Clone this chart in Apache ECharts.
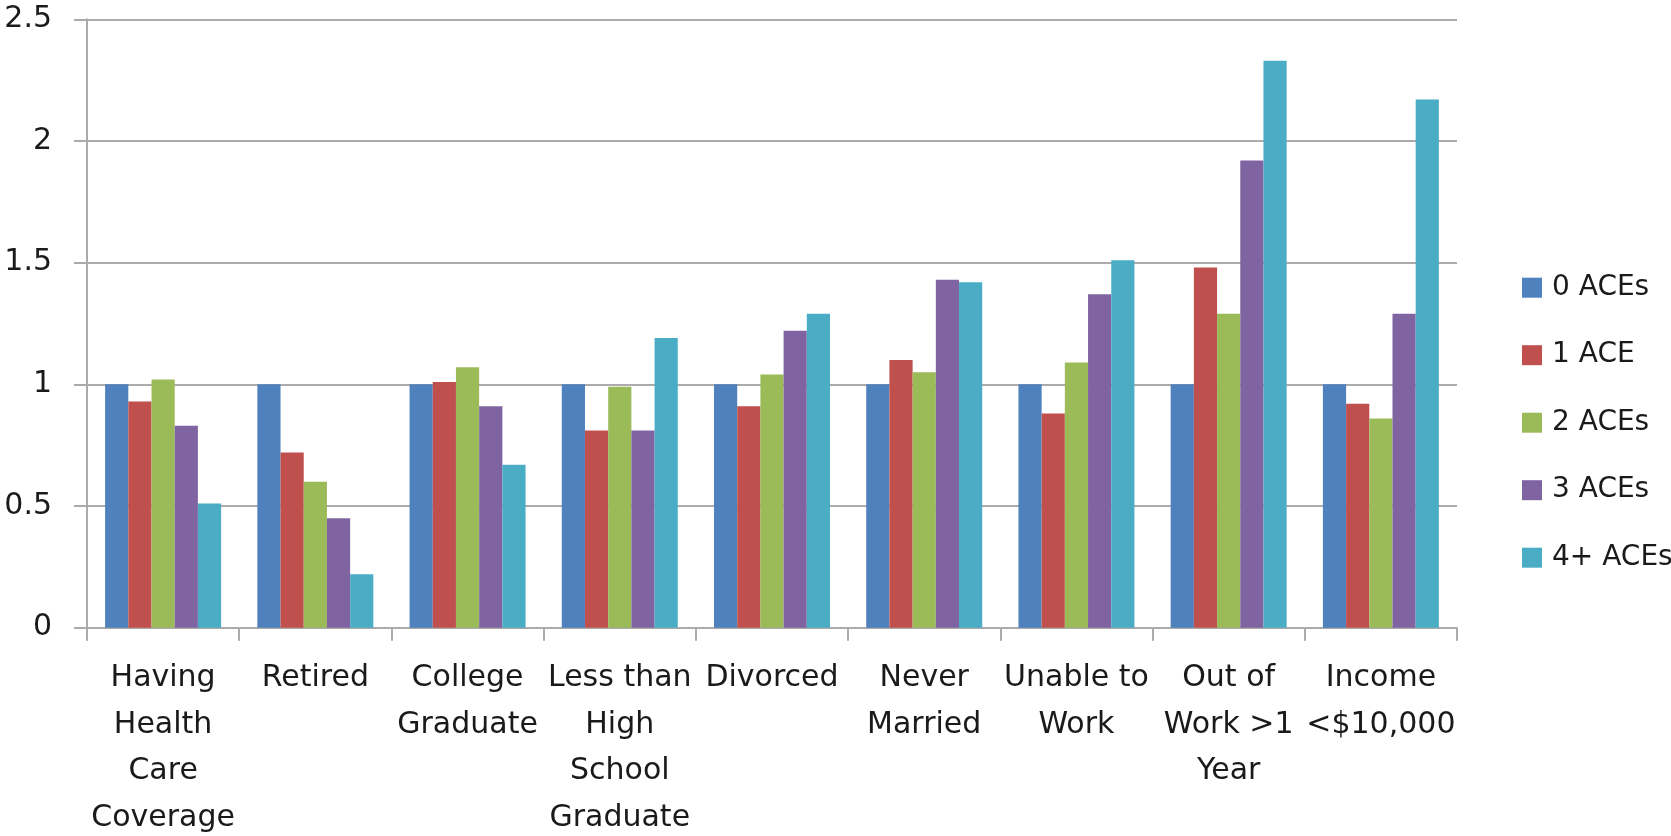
<!DOCTYPE html>
<html>
<head>
<meta charset="utf-8">
<script src="https://cdn.jsdelivr.net/npm/echarts@6/dist/echarts.min.js"></script>
<style>
  html, body { margin: 0; padding: 0; background: #fff; }
  #chart { width: 1671px; height: 836px; }
</style>
</head>
<body>
<div id="chart"></div>
<script>
// categories, wrapped the way they appear under the axis
var categories = [
    'Having\nHealth\nCare\nCoverage',
    'Retired',
    'College\nGraduate',
    'Less than\nHigh\nSchool\nGraduate',
    'Divorced',
    'Never\nMarried',
    'Unable to\nWork',
    'Out of\nWork >1\nYear',
    'Income\n<$10,000'
];
var seriesNames = ['0 ACEs', '1 ACE', '2 ACEs', '3 ACEs', '4+ ACEs'];
var aces0 = [1, 1, 1, 1, 1, 1, 1, 1, 1];
var aces1 = [0.93, 0.72, 1.01, 0.81, 0.91, 1.10, 0.88, 1.48, 0.92];
var aces2 = [1.02, 0.60, 1.07, 0.99, 1.04, 1.05, 1.09, 1.29, 0.86];
var aces3 = [0.83, 0.45, 0.91, 0.81, 1.22, 1.43, 1.37, 1.92, 1.29];
var aces4 = [0.51, 0.22, 0.67, 1.19, 1.29, 1.42, 1.51, 2.33, 2.17];
var colors = ['#4F81BD', '#C0504D', '#9BBB59', '#8064A2', '#4BACC6'];

var chart = echarts.init(document.getElementById('chart'));
var font = 'DejaVu Sans';
var gridGrey = '#ababab';

var allData = [aces0, aces1, aces2, aces3, aces4];
var series = allData.map(function (d, i) {
    return {
        name: seriesNames[i],
        type: 'bar',
        data: d,
        barGap: '0%',
        barCategoryGap: '23.8%',
        itemStyle: { color: colors[i] }
    };
});

var option = {
    animation: false,
    backgroundColor: '#fff',
    color: colors,
    textStyle: { fontFamily: font, color: '#1a1a1a' },
    grid: {
        left: 87,
        right: 214,
        top: 19.3,
        bottom: 208.3,
        containLabel: false,
        outerBoundsMode: 'none'
    },
    legend: {
        orient: 'vertical',
        left: 1517,
        top: 268.7,
        itemWidth: 20,
        itemHeight: 20,
        itemGap: 39.5,
        icon: 'rect',
        data: seriesNames,
        textStyle: {
            fontFamily: font,
            fontSize: 28,
            lineHeight: 28,
            color: '#1a1a1a',
            padding: [0, 0, 0, 5]
        }
    },
    xAxis: {
        type: 'category',
        data: categories,
        axisLine: { lineStyle: { color: gridGrey, width: 2 } },
        axisTick: { show: true, length: 13, lineStyle: { color: gridGrey, width: 2 } },
        axisLabel: {
            interval: 0,
            margin: 27,
            fontFamily: font,
            fontSize: 30,
            lineHeight: 46.7,
            color: '#1a1a1a',
            align: 'center'
        }
    },
    yAxis: {
        type: 'value',
        min: 0,
        max: 2.5,
        interval: 0.5,
        axisLine: { show: true, lineStyle: { color: gridGrey, width: 2 } },
        axisTick: { show: true, length: 13, lineStyle: { color: gridGrey, width: 2 } },
        splitLine: { lineStyle: { color: gridGrey, width: 2 } },
        axisLabel: {
            margin: 35,
            fontFamily: font,
            fontSize: 30,
            color: '#1a1a1a'
        }
    },
    series: series
};

chart.setOption(option);
</script>
</body>
</html>
